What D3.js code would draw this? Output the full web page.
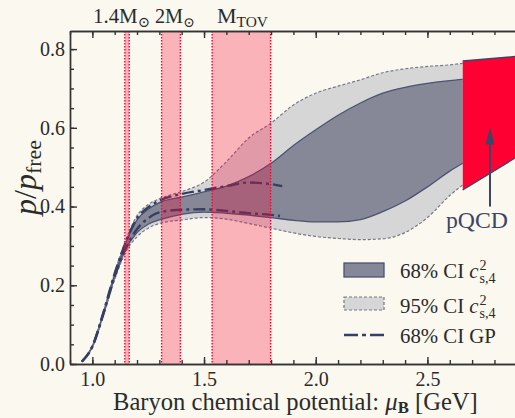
<!DOCTYPE html>
<html>
<head>
<meta charset="utf-8">
<script src="https://cdn.jsdelivr.net/npm/d3@7"></script>
<style>
  body { margin: 0; background: #faf8ef; }
  text { font-family: "Liberation Serif", "DejaVu Serif", serif; fill: #2b2b2b; }
</style>
</head>
<body>
<svg id="chart" width="515" height="418"></svg>
<script>
// baryon chemical potential grid (GeV)
var mu = [0.953, 1.0, 1.05, 1.1, 1.15, 1.2, 1.25, 1.3, 1.4, 1.5, 1.6, 1.7, 1.8, 1.9, 2.0, 2.1, 2.2, 2.3, 2.4, 2.5, 2.6, 2.658];
var ci95Upper = [0.006, 0.046, 0.133, 0.232, 0.315, 0.377, 0.405, 0.42, 0.438, 0.462, 0.514, 0.574, 0.612, 0.658, 0.688, 0.706, 0.722, 0.74, 0.75, 0.756, 0.76, 0.764];
var ci68Upper = [0.006, 0.045, 0.131, 0.228, 0.308, 0.366, 0.393, 0.41, 0.424, 0.437, 0.452, 0.476, 0.51, 0.555, 0.595, 0.632, 0.663, 0.688, 0.703, 0.713, 0.72, 0.723];
var ci68Lower = [0.006, 0.043, 0.127, 0.22, 0.292, 0.334, 0.355, 0.366, 0.38, 0.386, 0.383, 0.378, 0.372, 0.365, 0.361, 0.361, 0.367, 0.387, 0.414, 0.45, 0.49, 0.51];
var ci95Lower = [0.006, 0.042, 0.124, 0.215, 0.285, 0.323, 0.345, 0.357, 0.366, 0.372, 0.368, 0.357, 0.345, 0.333, 0.324, 0.319, 0.316, 0.318, 0.334, 0.372, 0.428, 0.455];

// GP 68% CI
var gpMuUpper = [0.953, 1.0, 1.05, 1.1, 1.15, 1.2, 1.25, 1.3, 1.4, 1.5, 1.6, 1.7, 1.8, 1.85];
var gpUpper = [0.006, 0.045, 0.132, 0.23, 0.31, 0.37, 0.398, 0.415, 0.432, 0.442, 0.452, 0.461, 0.457, 0.452];
var gpMuLower = [0.953, 1.0, 1.05, 1.1, 1.15, 1.2, 1.25, 1.3, 1.4, 1.5, 1.6, 1.7, 1.8, 1.84];
var gpLower = [0.006, 0.044, 0.128, 0.222, 0.294, 0.343, 0.37, 0.385, 0.392, 0.393, 0.389, 0.383, 0.379, 0.376];

// pQCD region
var pqcdMu = [2.658, 2.892];
var pqcdLower = [0.442, 0.523];
var pqcdUpper = [0.770, 0.781];

// neutron star central chemical potentials
var starLo = [1.1455, 1.31, 1.536];
var starHi = [1.165, 1.394, 1.798];

var xTicks = [1.0, 1.5, 2.0, 2.5];
var yTicks = [0.0, 0.2, 0.4, 0.6, 0.8];

var margin = {top: 31, right: 0, bottom: 54, left: 70},
    width = 515 - margin.left - margin.right,
    height = 418 - margin.top - margin.bottom;

var svg = d3.select("#chart");
svg.append("rect").attr("width", 515).attr("height", 418).attr("fill", "#faf8ef");

var x = d3.scaleLinear().domain([0.9, 2.892]).range([margin.left, margin.left + width]);
var y = d3.scaleLinear().domain([0, 0.846]).range([margin.top + height, margin.top]);

// scale a text's font so it spans the given width
function fit(t, w) {
  var fs = parseFloat(t.style("font-size"));
  t.style("font-size", (fs * w / t.node().getComputedTextLength()) + "px");
  return t;
}

var g = svg.append("g");

function band(lo, hi, xs) {
  return d3.area()
    .x(function(d, i) { return x(xs[i]); })
    .y0(function(d, i) { return y(lo[i]); })
    .y1(function(d, i) { return y(hi[i]); })
    .curve(d3.curveMonotoneX)(xs);
}
function line(xs, ys) {
  return d3.line()
    .x(function(d, i) { return x(xs[i]); })
    .y(function(d, i) { return y(ys[i]); })
    .curve(d3.curveMonotoneX)(xs);
}

// bands
g.append("path").attr("d", band(ci95Lower, ci95Upper, mu)).attr("fill", "#d6d6d6");
g.append("path").attr("d", band(ci68Lower, ci68Upper, mu)).attr("fill", "#868897");
[ci68Upper, ci68Lower].forEach(function(s) {
  g.append("path").attr("d", line(mu, s)).attr("fill", "none")
    .attr("stroke", "#4b5371").attr("stroke-width", 1.3);
});
[ci95Upper, ci95Lower].forEach(function(s) {
  g.append("path").attr("d", line(mu, s)).attr("fill", "none")
    .attr("stroke", "#737888").attr("stroke-width", 1.2).attr("stroke-dasharray", "3,2");
});

// GP lines
g.append("path").attr("d", line(gpMuUpper, gpUpper)).attr("fill", "none")
  .attr("stroke", "#363f63").attr("stroke-width", 2.4).attr("stroke-dasharray", "12,4,3,4");
g.append("path").attr("d", line(gpMuLower, gpLower)).attr("fill", "none")
  .attr("stroke", "#363f63").attr("stroke-width", 2.4).attr("stroke-dasharray", "12,4,3,4");

// star bands
starLo.forEach(function(lo, i) {
  g.append("rect")
    .attr("x", x(lo)).attr("y", margin.top)
    .attr("width", x(starHi[i]) - x(lo)).attr("height", height)
    .attr("fill", "#ff0033").attr("fill-opacity", 0.28);
  [lo, starHi[i]].forEach(function(v) {
    g.append("line")
      .attr("x1", x(v)).attr("x2", x(v))
      .attr("y1", margin.top).attr("y2", margin.top + height)
      .attr("stroke", "#ff0033").attr("stroke-width", 1.4).attr("stroke-dasharray", "1.5,1.5");
  });
});

// pQCD
g.append("path").attr("d", band(pqcdLower, pqcdUpper, pqcdMu)).attr("fill", "#ff0033");
g.append("path").attr("d", line(pqcdMu, pqcdUpper)).attr("fill", "none").attr("stroke", "#3d4566").attr("stroke-width", 1.5);
g.append("path").attr("d", line(pqcdMu, pqcdLower)).attr("fill", "none").attr("stroke", "#3d4566").attr("stroke-width", 1.2);

var ax = 2.78;
g.append("line").attr("x1", x(ax)).attr("x2", x(ax)).attr("y1", y(0.4)).attr("y2", y(0.58))
  .attr("stroke", "#3d4566").attr("stroke-width", 2);
g.append("path")
  .attr("d", "M" + x(ax) + "," + y(0.601) + "L" + (x(ax) - 4.5) + "," + (y(0.601) + 17) + "L" + (x(ax) + 4.5) + "," + (y(0.601) + 17) + "Z")
  .attr("fill", "#3d4566");
fit(g.append("text").attr("x", 446).attr("y", 228)
  .style("font-size", "22px").style("fill", "#3d4566").text("pQCD"), 62);

// axes
var noLabel = function() { return ""; };
var minorX = d3.range(9, 29).map(function(v) { return v / 10; });
var minorY = d3.range(0, 17).map(function(v) { return v * 0.05; });
var axBottom = d3.axisBottom(x).tickValues(xTicks).tickFormat(d3.format(".1f")).tickSize(-7).tickSizeOuter(0).tickPadding(8);
var axBottomMinor = d3.axisBottom(x).tickValues(minorX).tickFormat(noLabel).tickSize(-4).tickSizeOuter(0);
var axTop = d3.axisTop(x).tickValues(xTicks).tickFormat(noLabel).tickSize(-7).tickSizeOuter(0);
var axTopMinor = d3.axisTop(x).tickValues(minorX).tickFormat(noLabel).tickSize(-4).tickSizeOuter(0);
var axLeft = d3.axisLeft(y).tickValues(yTicks).tickFormat(d3.format(".1f")).tickSize(-7).tickSizeOuter(0).tickPadding(5);
var axLeftMinor = d3.axisLeft(y).tickValues(minorY).tickFormat(noLabel).tickSize(-4).tickSizeOuter(0);

[[axBottomMinor, "b"], [axBottom, "b"], [axTopMinor, "t"], [axTop, "t"], [axLeftMinor, "l"], [axLeft, "l"]].forEach(function(a) {
  var t = a[1] == "b" ? "translate(0," + (margin.top + height) + ")" :
          a[1] == "t" ? "translate(0," + margin.top + ")" : "translate(" + margin.left + ",0)";
  var ag = svg.append("g").attr("transform", t).call(a[0]);
  ag.selectAll("path, line").attr("stroke", "#333").attr("stroke-width", 1.4);
  ag.selectAll("text").style("font-size", "20px").style("font-family", "Liberation Serif").attr("fill", "#2b2b2b");
});

// top labels
var topLab = svg.append("g").style("font-size", "20px");
var t1 = topLab.append("text").attr("x", 93).attr("y", 23);
t1.append("tspan").text("1.4M");
t1.append("tspan").attr("dy", 4).style("font-size", "0.7em").text("\u2299");
fit(t1, 57);
var t2 = topLab.append("text").attr("x", 155).attr("y", 23);
t2.append("tspan").text("2M");
t2.append("tspan").attr("dy", 4).style("font-size", "0.7em").text("\u2299");
fit(t2, 40);
var t3 = topLab.append("text").attr("x", 217).attr("y", 23);
t3.append("tspan").text("M");
t3.append("tspan").attr("dy", 4).style("font-size", "0.7em").text("TOV");
fit(t3, 51);

// axis labels
var xl = svg.append("text").attr("x", 113).attr("y", 410).style("font-size", "21px");
xl.append("tspan").text("Baryon chemical potential: ");
xl.append("tspan").style("font-style", "italic").text("\u03bc");
xl.append("tspan").attr("dy", 3).style("font-size", "0.68em").style("font-weight", "bold").text("B");
xl.append("tspan").attr("dy", -3).text(" [GeV]");
fit(xl, 365);

var yl = svg.append("text").attr("transform", "translate(36,215) rotate(-90)").style("font-size", "23px");
yl.append("tspan").style("font-style", "italic").text("p");
yl.append("tspan").text("/");
yl.append("tspan").style("font-style", "italic").text("p");
yl.append("tspan").attr("dy", 5).style("font-size", "0.68em").text("free");
fit(yl, 75);

// legend
var lg = svg.append("g");
lg.append("rect").attr("x", 344).attr("y", 263).attr("width", 40).attr("height", 14)
  .attr("fill", "#868897").attr("stroke", "#4b5371").attr("stroke-width", 1.3);
lg.append("rect").attr("x", 344).attr("y", 297).attr("width", 40).attr("height", 13)
  .attr("fill", "#d6d6d6").attr("stroke", "#737888").attr("stroke-width", 1.2).attr("stroke-dasharray", "3,2");
lg.append("line").attr("x1", 344).attr("x2", 384).attr("y1", 335).attr("y2", 335)
  .attr("stroke", "#363f63").attr("stroke-width", 2.4).attr("stroke-dasharray", "14,4,4,4");

var legendText = ["68% CI ", "95% CI ", "68% CI GP"];
var legendY = [278, 313, 343];
var probe = fit(lg.append("text").attr("x", 400).attr("y", legendY[2]).style("font-size", "18px").text(legendText[2]), 96);
var legendSize = parseFloat(probe.style("font-size"));
legendText.slice(0, 2).forEach(function(s, i) {
  var t = lg.append("text").attr("x", 400).attr("y", legendY[i]).style("font-size", legendSize + "px");
  t.append("tspan").text(s);
  t.append("tspan").style("font-style", "italic").text("c");
  t.append("tspan").attr("dx", 1).attr("dy", -8).style("font-size", "0.68em").text("2");
  t.append("tspan").attr("dx", -legendSize * 0.34).attr("dy", 13).style("font-size", "0.68em").text("s,4");
});
</script>
</body>
</html>
